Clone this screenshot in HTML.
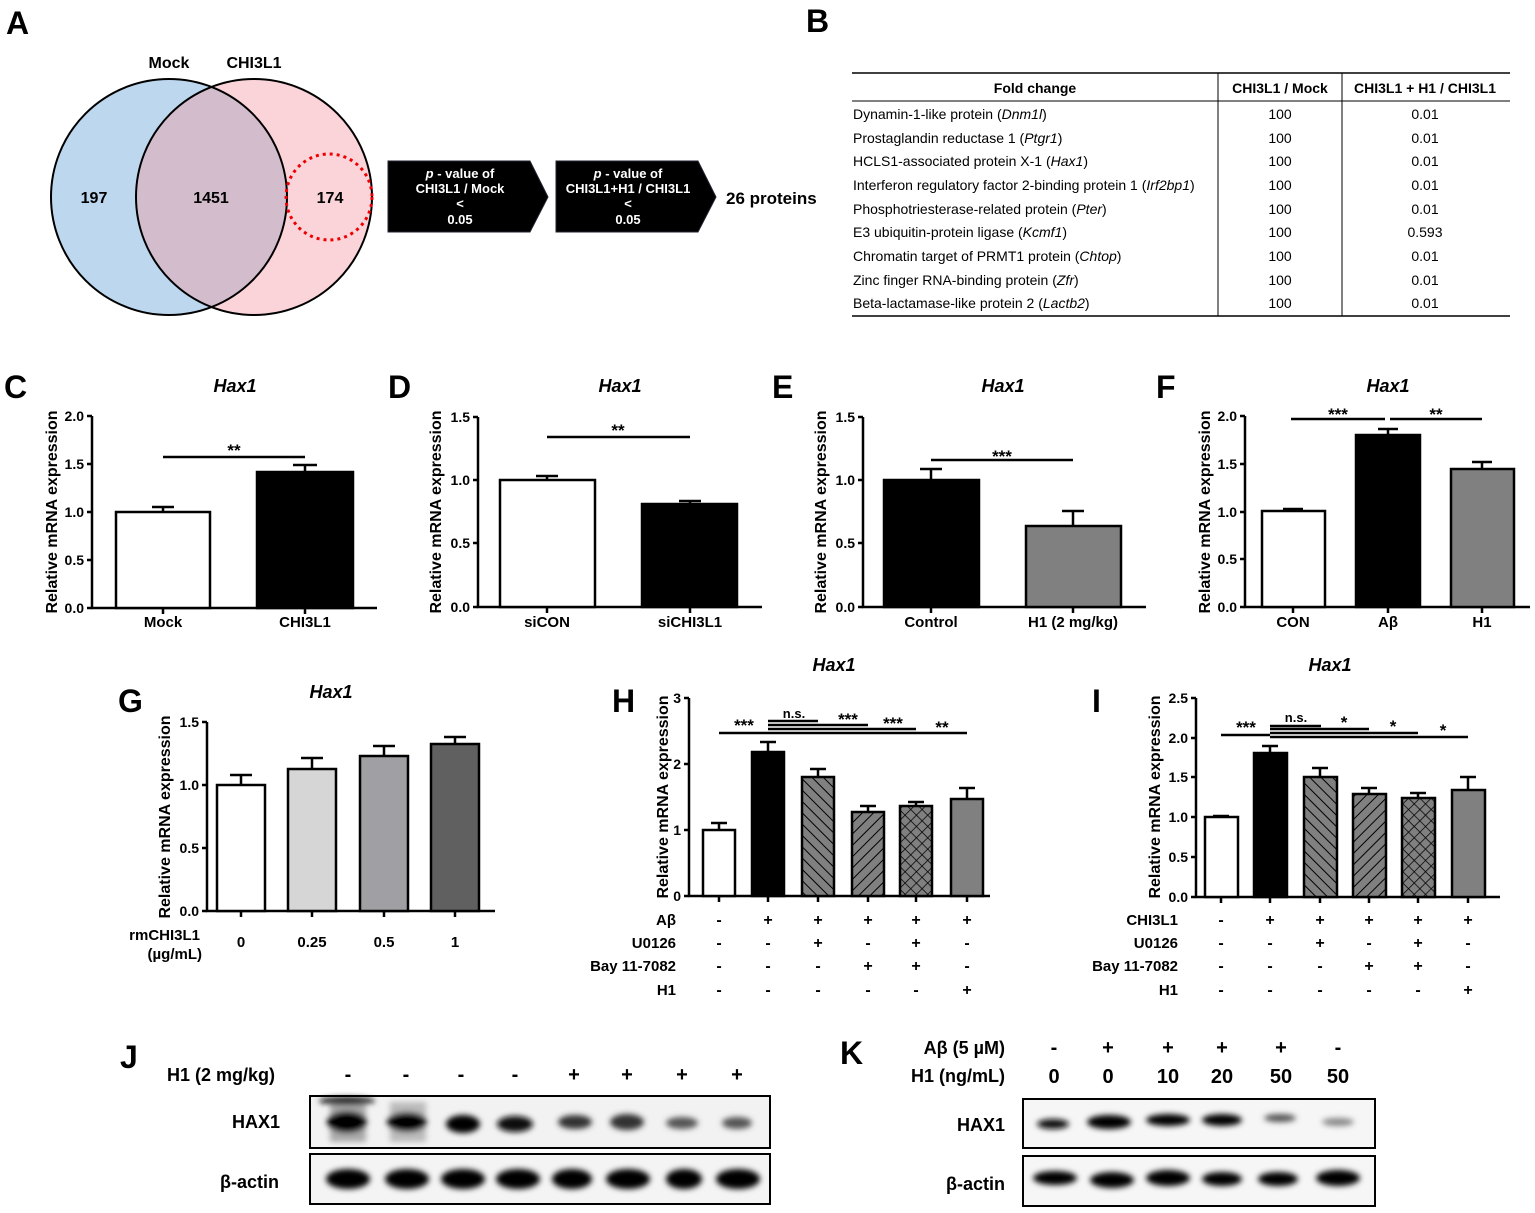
<!DOCTYPE html>
<html><head><meta charset="utf-8"><style>body{margin:0;background:#fff}svg{display:block;font-family:"Liberation Sans",Arial,sans-serif}</style></head><body>
<svg width="1535" height="1213" viewBox="0 0 1535 1213" xmlns="http://www.w3.org/2000/svg" font-weight="bold">
<defs>
<pattern id="hb" width="8" height="8" patternUnits="userSpaceOnUse" patternTransform="rotate(-45)"><rect width="8" height="8" fill="#808080"/><line x1="0" y1="0" x2="0" y2="8" stroke="#000" stroke-width="2"/></pattern>
<pattern id="hf" width="8" height="8" patternUnits="userSpaceOnUse" patternTransform="rotate(45)"><rect width="8" height="8" fill="#808080"/><line x1="0" y1="0" x2="0" y2="8" stroke="#000" stroke-width="2"/></pattern>
<pattern id="hx" width="8" height="8" patternUnits="userSpaceOnUse" patternTransform="rotate(45)"><rect width="8" height="8" fill="#808080"/><line x1="0" y1="0" x2="0" y2="8" stroke="#000" stroke-width="1.5"/><line x1="0" y1="0" x2="8" y2="0" stroke="#000" stroke-width="1.5"/></pattern>
<clipPath id="cb"><circle cx="169" cy="197" r="118"/></clipPath>
<filter id="bl" x="-30%" y="-80%" width="160%" height="260%"><feGaussianBlur stdDeviation="3"/></filter>
</defs>

<g font-size="32"><text x="6" y="34">A</text><text x="806" y="32">B</text><text x="4" y="398">C</text><text x="388" y="398">D</text><text x="772" y="398">E</text><text x="1156" y="398">F</text><text x="118" y="712">G</text><text x="612" y="712">H</text><text x="1092" y="712">I</text><text x="120" y="1068">J</text><text x="840" y="1064">K</text></g>

<circle cx="169" cy="197" r="118" fill="#bdd7ee"/>
<circle cx="254" cy="197" r="118" fill="#fbd4da"/>
<circle cx="254" cy="197" r="118" fill="#d3bccc" clip-path="url(#cb)"/>
<circle cx="169" cy="197" r="118" fill="none" stroke="#000" stroke-width="2"/>
<circle cx="254" cy="197" r="118" fill="none" stroke="#000" stroke-width="2"/>
<circle cx="329" cy="197" r="43" fill="none" stroke="#e00" stroke-width="3" stroke-dasharray="3,4"/>
<g font-size="16" text-anchor="middle"><text x="169" y="68">Mock</text><text x="254" y="68">CHI3L1</text><text x="94" y="203">197</text><text x="211" y="203">1451</text><text x="330" y="203">174</text></g>

<polygon points="388,161 530,161 548,197 530,232 388,232" fill="#000" stroke="#223" stroke-width="1"/>
<polygon points="556,161 698,161 716,197 698,232 556,232" fill="#000" stroke="#223" stroke-width="1"/>
<g font-size="13" fill="#fff" text-anchor="middle"><text x="460" y="178"><tspan font-style="italic">p</tspan> - value of</text><text x="460" y="193">CHI3L1 / Mock</text><text x="460" y="208">&lt;</text><text x="460" y="224">0.05</text>
<text x="628" y="178"><tspan font-style="italic">p</tspan> - value of</text><text x="628" y="193">CHI3L1+H1 / CHI3L1</text><text x="628" y="208">&lt;</text><text x="628" y="224">0.05</text></g>
<text x="726" y="204" font-size="17">26 proteins</text>

<g stroke="#000"><line x1="852" y1="73" x2="1510" y2="73" stroke-width="1.5"/><line x1="852" y1="101" x2="1510" y2="101"/><line x1="852" y1="316" x2="1510" y2="316" stroke-width="1.5"/><line x1="1218" y1="73" x2="1218" y2="316"/><line x1="1342" y1="73" x2="1342" y2="316"/></g>
<g font-size="14" text-anchor="middle"><text x="1035" y="93">Fold change</text><text x="1280" y="93">CHI3L1 / Mock</text><text x="1425" y="93">CHI3L1 + H1 / CHI3L1</text></g>
<g font-size="14" font-weight="normal">
<text x="853" y="119">Dynamin-1-like protein (<tspan font-style="italic">Dnm1l</tspan>)</text>
<text x="853" y="143">Prostaglandin reductase 1 (<tspan font-style="italic">Ptgr1</tspan>)</text>
<text x="853" y="166">HCLS1-associated protein X-1 (<tspan font-style="italic">Hax1</tspan>)</text>
<text x="853" y="190">Interferon regulatory factor 2-binding protein 1 (<tspan font-style="italic">Irf2bp1</tspan>)</text>
<text x="853" y="214">Phosphotriesterase-related protein (<tspan font-style="italic">Pter</tspan>)</text>
<text x="853" y="237">E3 ubiquitin-protein ligase (<tspan font-style="italic">Kcmf1</tspan>)</text>
<text x="853" y="261">Chromatin target of PRMT1 protein (<tspan font-style="italic">Chtop</tspan>)</text>
<text x="853" y="285">Zinc finger RNA-binding protein (<tspan font-style="italic">Zfr</tspan>)</text>
<text x="853" y="308">Beta-lactamase-like protein 2 (<tspan font-style="italic">Lactb2</tspan>)</text>
</g>
<g font-size="14" text-anchor="middle" font-weight="normal">
<text x="1280" y="119">100</text><text x="1280" y="143">100</text><text x="1280" y="166">100</text><text x="1280" y="190">100</text><text x="1280" y="214">100</text><text x="1280" y="237">100</text><text x="1280" y="261">100</text><text x="1280" y="285">100</text><text x="1280" y="308">100</text>
<text x="1425" y="119">0.01</text><text x="1425" y="143">0.01</text><text x="1425" y="166">0.01</text><text x="1425" y="190">0.01</text><text x="1425" y="214">0.01</text><text x="1425" y="237">0.593</text><text x="1425" y="261">0.01</text><text x="1425" y="285">0.01</text><text x="1425" y="308">0.01</text>
</g>

<g stroke="#000" stroke-width="2.5" fill="none">
<path d="M92,416 V608 H377"/><path d="M87,416H92M87,464H92M87,512H92M87,560H92M87,608H92M163,608v6M305,608v6"/>
<path d="M163,512V507M152,507H174M305,472V465M293,465H317"/>
<path d="M478,417 V607 H762"/><path d="M473,417H478M473,480H478M473,543H478M473,607H478M547,607v6M690,607v6"/>
<path d="M547,480V476M536,476H558M690,504V501M679,501H701"/>
<path d="M863,417 V607 H1146"/><path d="M858,417H863M858,480H863M858,543H863M858,607H863M931,607v6M1073,607v6"/>
<path d="M931,480V469M920,469H942M1073,526V511M1062,511H1084"/>
<path d="M1245,416 V607 H1530"/><path d="M1240,416H1245M1240,464H1245M1240,512H1245M1240,559H1245M1240,607H1245M1293,607v6M1388,607v6M1482,607v6"/>
<path d="M1293,511V509M1283,509H1303M1388,435V429M1378,429H1398M1482,469V462M1472,462H1492"/>
<path d="M207,722 V911 H495"/><path d="M202,722H207M202,785H207M202,848H207M202,911H207M241,911v6M312,911v6M384,911v6M455,911v6"/>
<path d="M241,785V775M230,775H252M312,769V758M301,758H323M384,756V746M373,746H395M455,744V737M444,737H466"/>
<path d="M689,698 V896 H990"/><path d="M684,698H689M684,764H689M684,830H689M684,896H689M719,896v6M768,896v6M818,896v6M868,896v6M916,896v6M967,896v6"/>
<path d="M719,830V823M711,823H727M768,752V742M760,742H776M818,777V769M810,769H826M868,812V806M860,806H876M916,806V802M908,802H924M967,799V788M959,788H975"/>
<path d="M1196,698 V897 H1500"/><path d="M1191,698H1196M1191,738H1196M1191,777H1196M1191,817H1196M1191,857H1196M1191,897H1196M1221,897v6M1270,897v6M1320,897v6M1369,897v6M1418,897v6M1468,897v6"/>
<path d="M1221,817V816M1213,816H1229M1270,753V746M1262,746H1278M1320,777V768M1312,768H1328M1369,794V788M1361,788H1377M1418,798V793M1410,793H1426M1468,790V777M1460,777H1476"/>
</g>

<g stroke="#000" stroke-width="2.5">
<rect x="116" y="512" width="94" height="96" fill="#fff"/><rect x="257" y="472" width="96" height="136" fill="#000"/>
<rect x="500" y="480" width="95" height="127" fill="#fff"/><rect x="642" y="504" width="95" height="103" fill="#000"/>
<rect x="884" y="480" width="95" height="127" fill="#000"/><rect x="1026" y="526" width="95" height="81" fill="#808080"/>
<rect x="1262" y="511" width="63" height="96" fill="#fff"/><rect x="1356" y="435" width="64" height="172" fill="#000"/><rect x="1451" y="469" width="63" height="138" fill="#808080"/>
<rect x="217" y="785" width="48" height="126" fill="#fff"/><rect x="288" y="769" width="48" height="142" fill="#d6d6d6"/><rect x="360" y="756" width="48" height="155" fill="#a0a0a4"/><rect x="431" y="744" width="48" height="167" fill="#606060"/>
<rect x="703" y="830" width="32" height="66" fill="#fff"/><rect x="752" y="752" width="32" height="144" fill="#000"/><rect x="802" y="777" width="32" height="119" fill="url(#hb)"/><rect x="852" y="812" width="32" height="84" fill="url(#hf)"/><rect x="900" y="806" width="32" height="90" fill="url(#hx)"/><rect x="951" y="799" width="32" height="97" fill="#808080"/>
<rect x="1205" y="817" width="33" height="80" fill="#fff"/><rect x="1254" y="753" width="33" height="144" fill="#000"/><rect x="1304" y="777" width="33" height="120" fill="url(#hb)"/><rect x="1353" y="794" width="33" height="103" fill="url(#hf)"/><rect x="1402" y="798" width="33" height="99" fill="url(#hx)"/><rect x="1452" y="790" width="33" height="107" fill="#808080"/>
</g>

<g stroke="#000" stroke-width="2.5">
<line x1="163" y1="457" x2="305" y2="457"/><line x1="547" y1="437" x2="690" y2="437"/><line x1="931" y1="460" x2="1073" y2="460"/>
<line x1="1291" y1="419" x2="1385" y2="419"/><line x1="1390" y1="419" x2="1482" y2="419"/>
<line x1="719" y1="733" x2="768" y2="733"/><line x1="768" y1="721" x2="818" y2="721"/><line x1="768" y1="725" x2="868" y2="725"/><line x1="768" y1="729" x2="916" y2="729"/><line x1="768" y1="733" x2="967" y2="733"/>
<line x1="1221" y1="735" x2="1270" y2="735"/><line x1="1270" y1="726" x2="1321" y2="726"/><line x1="1270" y1="729" x2="1369" y2="729"/><line x1="1270" y1="733" x2="1418" y2="733"/><line x1="1270" y1="737" x2="1468" y2="737"/>
</g>
<g font-size="17" text-anchor="middle">
<text x="234" y="456">**</text><text x="618" y="436">**</text><text x="1002" y="462">***</text><text x="1338" y="420">***</text><text x="1436" y="420">**</text>
<text x="744" y="731">***</text><text x="848" y="725">***</text><text x="893" y="729">***</text><text x="942" y="733">**</text>
<text x="1246" y="733">***</text><text x="1344" y="728">*</text><text x="1393" y="732">*</text><text x="1443" y="736">*</text>
</g>
<g font-size="13" text-anchor="middle"><text x="794" y="718">n.s.</text><text x="1296" y="722">n.s.</text></g>

<g font-size="18" font-style="italic" text-anchor="middle"><text x="235" y="392">Hax1</text><text x="620" y="392">Hax1</text><text x="1003" y="392">Hax1</text><text x="1388" y="392">Hax1</text><text x="331" y="698">Hax1</text><text x="834" y="671">Hax1</text><text x="1330" y="671">Hax1</text></g>

<g font-size="16" text-anchor="middle">
<text transform="translate(57,512) rotate(-90)">Relative mRNA expression</text>
<text transform="translate(441,512) rotate(-90)">Relative mRNA expression</text>
<text transform="translate(826,512) rotate(-90)">Relative mRNA expression</text>
<text transform="translate(1210,512) rotate(-90)">Relative mRNA expression</text>
<text transform="translate(170,817) rotate(-90)">Relative mRNA expression</text>
<text transform="translate(668,797) rotate(-90)">Relative mRNA expression</text>
<text transform="translate(1160,797) rotate(-90)">Relative mRNA expression</text>
</g>
<g font-size="14" text-anchor="end">
<text x="84" y="421">2.0</text><text x="84" y="469">1.5</text><text x="84" y="517">1.0</text><text x="84" y="565">0.5</text><text x="84" y="613">0.0</text>
<text x="470" y="422">1.5</text><text x="470" y="485">1.0</text><text x="470" y="548">0.5</text><text x="470" y="612">0.0</text>
<text x="855" y="422">1.5</text><text x="855" y="485">1.0</text><text x="855" y="548">0.5</text><text x="855" y="612">0.0</text>
<text x="1237" y="421">2.0</text><text x="1237" y="469">1.5</text><text x="1237" y="517">1.0</text><text x="1237" y="564">0.5</text><text x="1237" y="612">0.0</text>
<text x="199" y="727">1.5</text><text x="199" y="790">1.0</text><text x="199" y="853">0.5</text><text x="199" y="916">0.0</text>
<text x="681" y="703">3</text><text x="681" y="769">2</text><text x="681" y="835">1</text><text x="681" y="901">0</text>
<text x="1188" y="703">2.5</text><text x="1188" y="743">2.0</text><text x="1188" y="782">1.5</text><text x="1188" y="822">1.0</text><text x="1188" y="862">0.5</text><text x="1188" y="902">0.0</text>
</g>
<g font-size="15" text-anchor="middle">
<text x="163" y="627">Mock</text><text x="305" y="627">CHI3L1</text><text x="547" y="627">siCON</text><text x="690" y="627">siCHI3L1</text><text x="931" y="627">Control</text><text x="1073" y="627">H1 (2 mg/kg)</text><text x="1293" y="627">CON</text><text x="1388" y="627">Aβ</text><text x="1482" y="627">H1</text>
<text x="241" y="947">0</text><text x="312" y="947">0.25</text><text x="384" y="947">0.5</text><text x="455" y="947">1</text>
</g>
<g font-size="15" text-anchor="end"><text x="200" y="940">rmCHI3L1</text><text x="202" y="959">(µg/mL)</text>
<text x="676" y="925">Aβ</text><text x="676" y="948">U0126</text><text x="676" y="971">Bay 11-7082</text><text x="676" y="995">H1</text>
<text x="1178" y="925">CHI3L1</text><text x="1178" y="948">U0126</text><text x="1178" y="971">Bay 11-7082</text><text x="1178" y="995">H1</text></g>
<g font-size="16" text-anchor="middle">
<text x="719" y="925">-</text><text x="768" y="925">+</text><text x="818" y="925">+</text><text x="868" y="925">+</text><text x="916" y="925">+</text><text x="967" y="925">+</text>
<text x="719" y="948">-</text><text x="768" y="948">-</text><text x="818" y="948">+</text><text x="868" y="948">-</text><text x="916" y="948">+</text><text x="967" y="948">-</text>
<text x="719" y="971">-</text><text x="768" y="971">-</text><text x="818" y="971">-</text><text x="868" y="971">+</text><text x="916" y="971">+</text><text x="967" y="971">-</text>
<text x="719" y="995">-</text><text x="768" y="995">-</text><text x="818" y="995">-</text><text x="868" y="995">-</text><text x="916" y="995">-</text><text x="967" y="995">+</text>
<text x="1221" y="925">-</text><text x="1270" y="925">+</text><text x="1320" y="925">+</text><text x="1369" y="925">+</text><text x="1418" y="925">+</text><text x="1468" y="925">+</text>
<text x="1221" y="948">-</text><text x="1270" y="948">-</text><text x="1320" y="948">+</text><text x="1369" y="948">-</text><text x="1418" y="948">+</text><text x="1468" y="948">-</text>
<text x="1221" y="971">-</text><text x="1270" y="971">-</text><text x="1320" y="971">-</text><text x="1369" y="971">+</text><text x="1418" y="971">+</text><text x="1468" y="971">-</text>
<text x="1221" y="995">-</text><text x="1270" y="995">-</text><text x="1320" y="995">-</text><text x="1369" y="995">-</text><text x="1418" y="995">-</text><text x="1468" y="995">+</text>
</g>

<g font-size="18"><text x="167" y="1081">H1 (2 mg/kg)</text><text x="232" y="1128">HAX1</text><text x="220" y="1188">β-actin</text></g>
<g font-size="20" text-anchor="middle"><text x="348" y="1081">-</text><text x="406" y="1081">-</text><text x="461" y="1081">-</text><text x="515" y="1081">-</text><text x="574" y="1081">+</text><text x="627" y="1081">+</text><text x="682" y="1081">+</text><text x="737" y="1081">+</text></g>
<rect x="310" y="1096" width="460" height="52" fill="#f2f2f2" stroke="#000" stroke-width="2"/>
<rect x="310" y="1154" width="460" height="50" fill="#f4f4f4" stroke="#000" stroke-width="2"/>
<g filter="url(#bl)">
<rect x="330" y="1102" width="36" height="40" fill="#aaa"/><rect x="390" y="1102" width="36" height="40" fill="#bbb"/>
<ellipse cx="347" cy="1101" rx="28" ry="4" fill="#111"/>
<ellipse cx="347" cy="1122" rx="20" ry="11" fill="#000"/><ellipse cx="407" cy="1122" rx="20" ry="10" fill="#000"/><ellipse cx="463" cy="1124" rx="17" ry="9" fill="#000"/><ellipse cx="515" cy="1124" rx="18" ry="8" fill="#111"/><ellipse cx="575" cy="1122" rx="17" ry="7" fill="#333"/><ellipse cx="627" cy="1122" rx="17" ry="8" fill="#333"/><ellipse cx="682" cy="1123" rx="16" ry="6" fill="#555"/><ellipse cx="737" cy="1123" rx="15" ry="6" fill="#555"/>
<ellipse cx="348" cy="1179" rx="22" ry="10" fill="#000"/><ellipse cx="407" cy="1179" rx="22" ry="10" fill="#000"/><ellipse cx="463" cy="1179" rx="22" ry="10" fill="#000"/><ellipse cx="518" cy="1179" rx="22" ry="10" fill="#000"/><ellipse cx="572" cy="1179" rx="20" ry="10" fill="#000"/><ellipse cx="628" cy="1179" rx="22" ry="10" fill="#000"/><ellipse cx="684" cy="1179" rx="18" ry="10" fill="#000"/><ellipse cx="738" cy="1179" rx="22" ry="10" fill="#000"/>
</g>

<g font-size="18" text-anchor="end"><text x="1005" y="1054">Aβ (5 µM)</text><text x="1005" y="1082">H1 (ng/mL)</text><text x="1005" y="1131">HAX1</text><text x="1005" y="1190">β-actin</text></g>
<g font-size="20" text-anchor="middle"><text x="1054" y="1054">-</text><text x="1108" y="1054">+</text><text x="1168" y="1054">+</text><text x="1222" y="1054">+</text><text x="1281" y="1054">+</text><text x="1338" y="1054">-</text>
<text x="1054" y="1083">0</text><text x="1108" y="1083">0</text><text x="1168" y="1083">10</text><text x="1222" y="1083">20</text><text x="1281" y="1083">50</text><text x="1338" y="1083">50</text></g>
<rect x="1023" y="1099" width="352" height="49" fill="#f6f6f6" stroke="#000" stroke-width="2"/>
<rect x="1023" y="1156" width="352" height="50" fill="#f6f6f6" stroke="#000" stroke-width="2"/>
<g filter="url(#bl)">
<ellipse cx="1053" cy="1124" rx="16" ry="5" fill="#111"/><ellipse cx="1109" cy="1122" rx="22" ry="7" fill="#000"/><ellipse cx="1168" cy="1120" rx="22" ry="6" fill="#000"/><ellipse cx="1222" cy="1120" rx="20" ry="6" fill="#000"/><ellipse cx="1280" cy="1118" rx="16" ry="4" fill="#555"/><ellipse cx="1338" cy="1122" rx="16" ry="4" fill="#888"/>
<ellipse cx="1055" cy="1178" rx="22" ry="7" fill="#000"/><ellipse cx="1112" cy="1180" rx="22" ry="8" fill="#000"/><ellipse cx="1168" cy="1178" rx="22" ry="8" fill="#000"/><ellipse cx="1222" cy="1179" rx="20" ry="7" fill="#000"/><ellipse cx="1278" cy="1179" rx="20" ry="7" fill="#000"/><ellipse cx="1338" cy="1178" rx="22" ry="8" fill="#000"/>
</g>
</svg>
</body></html>
